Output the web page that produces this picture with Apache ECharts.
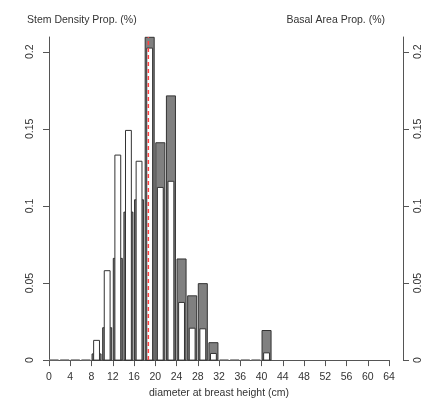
<!DOCTYPE html>
<html>
<head>
<meta charset="utf-8">
<script src="https://cdn.jsdelivr.net/npm/echarts@6/dist/echarts.min.js"></script>
<style>
  html, body { margin: 0; padding: 0; background: #fff; }
  #main { width: 427px; height: 404px; }
</style>
</head>
<body>
<div id="main"></div>
<script>
// dbh classes (cm), 2 cm wide, lower edge
let binStart = [0, 2, 4, 6, 8, 10, 12, 14, 16, 18, 20, 22, 24, 26, 28, 30, 32, 34, 36, 38, 40];
// stem density proportion (white bars)
let stemDensity = [0, 0, 0, 0, 0.0128, 0.058, 0.133, 0.149, 0.129, 0.2024, 0.112, 0.116, 0.0374, 0.0207, 0.0203, 0.0043, 0, 0, 0, 0, 0.0047];
// basal area proportion (grey bars)
let basalArea = [0, 0, 0, 0, 0.004, 0.021, 0.066, 0.096, 0.104, 0.2094, 0.141, 0.1714, 0.0656, 0.0417, 0.0496, 0.0113, 0, 0, 0, 0, 0.0192];
// mean dbh (red dashed line)
let meanDbh = 18.7;

let xTicks = [0, 64, 4];          // min, max, step
let yTickValues = [0, 0.05, 0.1, 0.15, 0.2];
let yTop = 0.2096;

const font = 'Liberation Sans, Arial, sans-serif';
const textCol = '#333';
const axisCol = '#555';

function barItem(halfWidth, fill, isGrey) {
    return function (params, api) {
        let c = api.value(0), v = api.value(1);
        let p0 = api.coord([c - halfWidth, 0]);
        let p1 = api.coord([c + halfWidth, v]);
        if (v === 0) {
            if (!isGrey) return null;
            return {
                type: 'line',
                shape: { x1: p0[0], y1: p0[1] - 0.5, x2: p1[0], y2: p0[1] - 0.5 },
                style: { stroke: '#999', lineWidth: 1.2 }
            };
        }
        return {
            type: 'rect',
            shape: { x: p0[0], y: p1[1], width: p1[0] - p0[0], height: p0[1] - p1[1] },
            style: { fill: fill, stroke: '#333', lineWidth: 1 }
        };
    };
}

let greyData = binStart.map((b, i) => [b + 0.95, basalArea[i]]);
let whiteData = binStart.map((b, i) => [b + 0.95, stemDensity[i]]);

function yAxisCfg(pos, offset, margin) {
    return {
        type: 'value',
        position: pos,
        offset: offset,
        min: 0,
        max: yTop,
        splitLine: { show: false },
        axisLine: { show: true, lineStyle: { color: axisCol, width: 1 } },
        axisTick: { show: true, length: 6, customValues: yTickValues, lineStyle: { color: axisCol } },
        axisLabel: {
            customValues: yTickValues,
            rotate: 90,
            margin: margin,
            fontSize: 10.5,
            fontFamily: font,
            color: textCol
        }
    };
}

let option = {
    animation: false,
    backgroundColor: '#fff',
    title: [
        { text: 'Stem Density Prop. (%)', left: 27, top: 15, padding: 0,
          textStyle: { fontSize: 10.5, fontWeight: 'normal', fontFamily: font, color: textCol } },
        { text: 'Basal Area Prop. (%)', right: 42, top: 15, padding: 0,
          textStyle: { fontSize: 10.5, fontWeight: 'normal', fontFamily: font, color: textCol } }
    ],
    grid: { left: 49, right: 38, top: 37, bottom: 40 },
    xAxis: {
        type: 'value',
        min: xTicks[0],
        max: xTicks[1],
        interval: xTicks[2],
        offset: 3,
        name: 'diameter at breast height (cm)',
        nameLocation: 'middle',
        nameGap: 24,
        nameTextStyle: { fontSize: 10.5, fontFamily: font, color: textCol },
        splitLine: { show: false },
        axisLine: { show: true, lineStyle: { color: axisCol, width: 1 } },
        axisTick: { show: true, length: 6, lineStyle: { color: axisCol } },
        axisLabel: { margin: 9, fontSize: 10.5, fontFamily: font, color: textCol }
    },
    yAxis: [yAxisCfg('left', 12, 1), yAxisCfg('right', 14, 10)],
    series: [
        {
            type: 'custom',
            name: 'Basal Area',
            renderItem: barItem(0.85, '#808080', true),
            data: greyData,
            z: 2
        },
        {
            type: 'custom',
            name: 'Stem Density',
            renderItem: barItem(0.55, '#fff', false),
            data: whiteData,
            z: 3
        },
        {
            type: 'custom',
            name: 'mean',
            renderItem: function (params, api) {
                let p0 = api.coord([api.value(0), 0]);
                let p1 = api.coord([api.value(0), yTop]);
                return {
                    type: 'line',
                    shape: { x1: p0[0], y1: p0[1], x2: p1[0], y2: p1[1] },
                    style: { stroke: '#ff4040', lineWidth: 1.5, lineDash: [4, 3] }
                };
            },
            data: [[meanDbh]],
            z: 4
        }
    ]
};

echarts.init(document.getElementById('main')).setOption(option);
</script>
</body>
</html>
